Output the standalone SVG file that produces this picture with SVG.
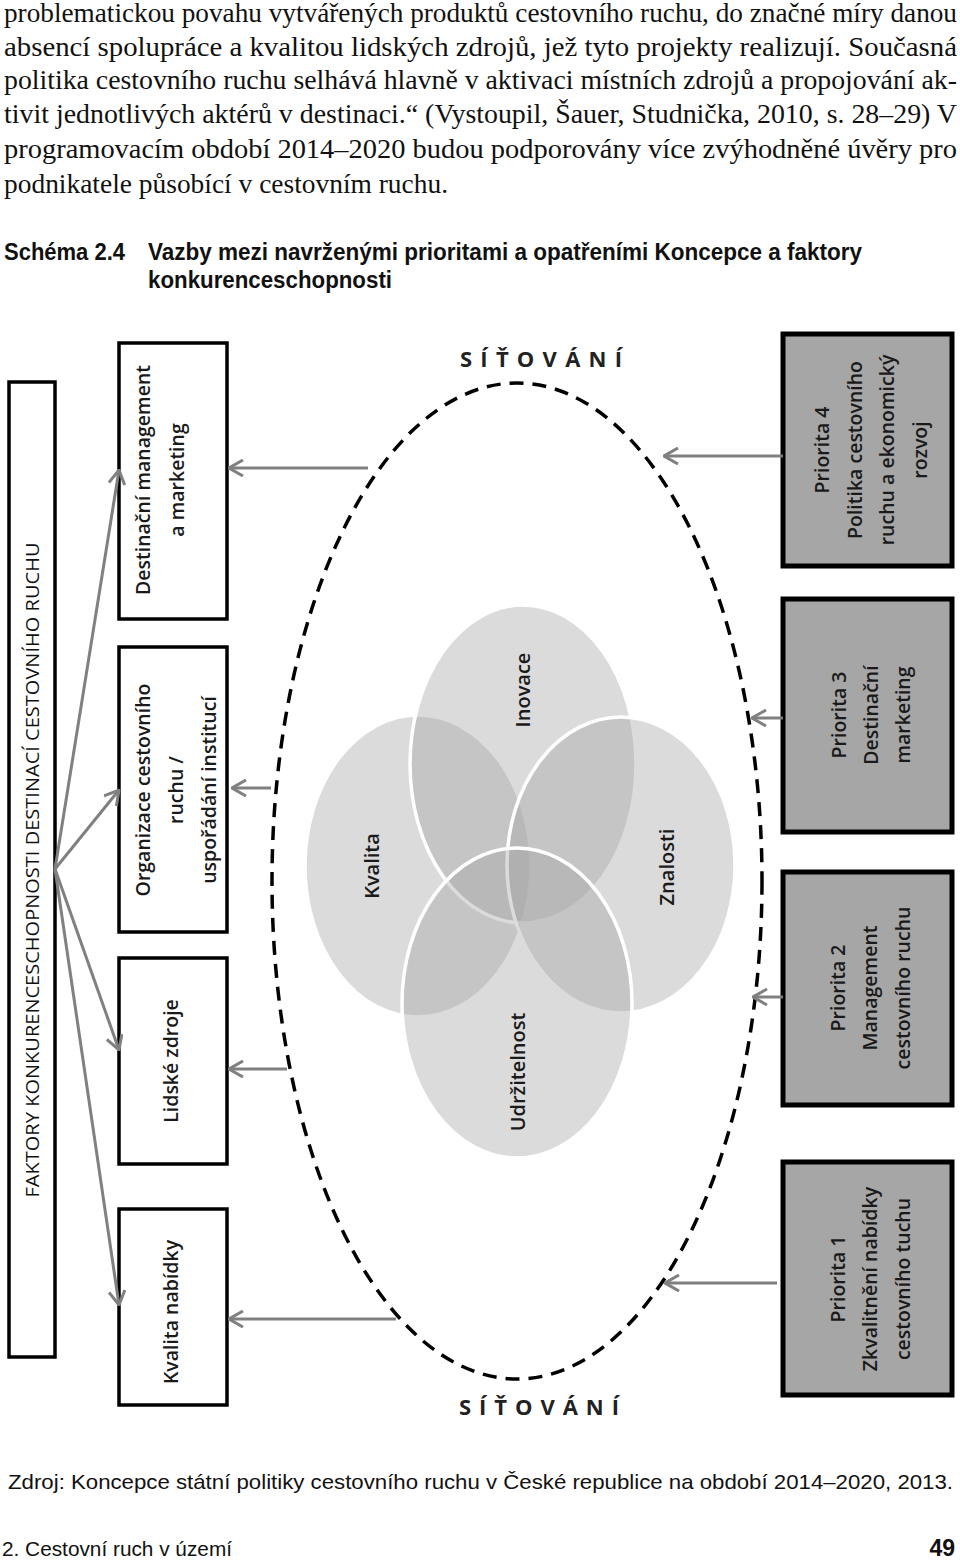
<svg xmlns="http://www.w3.org/2000/svg" width="960" height="1561" viewBox="0 0 960 1561">
<defs>
<style>
.body{font-family:"Liberation Serif","Times New Roman",serif;font-size:27px;fill:#111}
.head{font-family:"Liberation Sans",Arial,sans-serif;font-weight:bold;font-size:23px;fill:#111}
.cap{font-family:"Liberation Sans",Arial,sans-serif;font-size:21px;fill:#111}
.lbl{font-family:"Open Sans","Liberation Sans",sans-serif;font-weight:600;font-size:19.5px;fill:#1a1a1a;text-anchor:middle}
.vl{font-family:"Open Sans","Liberation Sans",sans-serif;font-weight:600;font-size:20px;fill:#1a1a1a;text-anchor:middle}
.big{font-family:"Open Sans","Liberation Sans",sans-serif;font-weight:400;font-size:18px;fill:#111;text-anchor:middle}
.net{font-family:"Open Sans","Liberation Sans",sans-serif;font-weight:700;font-size:22px;fill:#222}
.wbox{fill:#fff;stroke:#000;stroke-width:3.5}
.gbox{fill:#a6a6a6;stroke:#000;stroke-width:5}
.venn{fill:#a6a6a6;fill-opacity:0.4;stroke:#fff;stroke-width:3.5}
.conn{stroke:#808080;stroke-width:3;fill:none;marker-end:url(#arr)}
</style>
<marker id="arr" viewBox="0 0 16 18" refX="15" refY="9" markerWidth="16" markerHeight="18" markerUnits="userSpaceOnUse" orient="auto">
<path d="M1,1 L15,9 L1,17" fill="none" stroke="#808080" stroke-width="3"/>
</marker>
</defs>
<rect width="960" height="1561" fill="#fff"/>

<g id="paragraph">
<text class="body" x="4" y="22" textLength="953" lengthAdjust="spacingAndGlyphs">problematickou povahu vytvářených produktů cestovního ruchu, do značné míry danou</text>
<text class="body" x="4" y="56" textLength="953" lengthAdjust="spacingAndGlyphs">absencí spolupráce a kvalitou lidských zdrojů, jež tyto projekty realizují. Současná</text>
<text class="body" x="4" y="89" textLength="953" lengthAdjust="spacingAndGlyphs">politika cestovního ruchu selhává hlavně v aktivaci místních zdrojů a propojování ak-</text>
<text class="body" x="4" y="123" textLength="953" lengthAdjust="spacingAndGlyphs">tivit jednotlivých aktérů v destinaci.“ (Vystoupil, Šauer, Studnička, 2010, s. 28–29) V</text>
<text class="body" x="4" y="158" textLength="953" lengthAdjust="spacingAndGlyphs">programovacím období 2014–2020 budou podporovány více zvýhodněné úvěry pro</text>
<text class="body" x="4" y="193" textLength="444" lengthAdjust="spacingAndGlyphs">podnikatele působící v cestovním ruchu.</text>
</g>

<g id="heading">
<text class="head" x="4" y="260" textLength="121" lengthAdjust="spacingAndGlyphs">Schéma 2.4</text>
<text class="head" x="148" y="260" textLength="714" lengthAdjust="spacingAndGlyphs">Vazby mezi navrženými prioritami a opatřeními Koncepce a faktory</text>
<text class="head" x="148" y="288" textLength="244" lengthAdjust="spacingAndGlyphs">konkurenceschopnosti</text>
</g>

<g id="networking-ellipse">
<ellipse cx="517" cy="881" rx="245" ry="498" fill="none" stroke="#000" stroke-width="3.5" stroke-dasharray="14 9"/>
<text class="net" x="460" y="367" textLength="162" lengthAdjust="spacing">SÍŤOVÁNÍ</text>
<text class="net" x="459" y="1415" textLength="160" lengthAdjust="spacing">SÍŤOVÁNÍ</text>
</g>

<g id="venn">
<ellipse id="kvalita" class="venn" cx="418" cy="866" rx="113" ry="151"/>
<ellipse id="inovace" class="venn" cx="523" cy="764" rx="113" ry="159"/>
<ellipse id="znalosti" class="venn" cx="621" cy="865" rx="114" ry="148"/>
<ellipse id="udrzitelnost" class="venn" cx="517" cy="1003" rx="115" ry="155"/>
<text class="vl" transform="translate(523,690) rotate(-90)" dy="0.35em">Inovace</text>
<text class="vl" transform="translate(372,866) rotate(-90)" dy="0.35em">Kvalita</text>
<text class="vl" transform="translate(667,867) rotate(-90)" dy="0.35em">Znalosti</text>
<text class="vl" transform="translate(518,1072) rotate(-90)" dy="0.35em">Udržitelnost</text>
</g>

<g id="factors">
<rect class="wbox" x="9" y="382" width="46" height="975"/>
<text class="big" transform="translate(33,870) rotate(-90)" dy="0.35em" textLength="655" lengthAdjust="spacingAndGlyphs">FAKTORY KONKURENCESCHOPNOSTI DESTINACÍ CESTOVNÍHO RUCHU</text>
</g>

<g id="box-destinacni">
<rect class="wbox" x="119" y="343" width="108" height="276"/>
<text class="lbl" transform="translate(143,480) rotate(-90)" dy="0.35em">Destinační management</text>
<text class="lbl" transform="translate(177,480) rotate(-90)" dy="0.35em">a marketing</text>
</g>

<g id="box-organizace">
<rect class="wbox" x="119" y="647" width="108" height="285"/>
<text class="lbl" transform="translate(143,790) rotate(-90)" dy="0.35em">Organizace cestovního</text>
<text class="lbl" transform="translate(176,790) rotate(-90)" dy="0.35em">ruchu /</text>
<text class="lbl" transform="translate(209,790) rotate(-90)" dy="0.35em">uspořádání institucí</text>
</g>

<g id="box-lidske">
<rect class="wbox" x="119" y="958" width="108" height="206"/>
<text class="lbl" transform="translate(171,1061) rotate(-90)" dy="0.35em">Lidské zdroje</text>
</g>

<g id="box-kvalita">
<rect class="wbox" x="119" y="1209" width="108" height="196"/>
<text class="lbl" transform="translate(171,1312) rotate(-90)" dy="0.35em">Kvalita nabídky</text>
</g>

<g id="priorita4">
<rect class="gbox" x="783" y="334" width="169" height="232"/>
<text class="lbl" transform="translate(822,450) rotate(-90)" dy="0.35em">Priorita 4</text>
<text class="lbl" transform="translate(855,450) rotate(-90)" dy="0.35em">Politika cestovního</text>
<text class="lbl" transform="translate(887,450) rotate(-90)" dy="0.35em">ruchu a ekonomický</text>
<text class="lbl" transform="translate(920,450) rotate(-90)" dy="0.35em">rozvoj</text>
</g>

<g id="priorita3">
<rect class="gbox" x="783" y="599" width="169" height="233"/>
<text class="lbl" transform="translate(839,715) rotate(-90)" dy="0.35em">Priorita 3</text>
<text class="lbl" transform="translate(871,715) rotate(-90)" dy="0.35em">Destinační</text>
<text class="lbl" transform="translate(903,715) rotate(-90)" dy="0.35em">marketing</text>
</g>

<g id="priorita2">
<rect class="gbox" x="783" y="872" width="169" height="233"/>
<text class="lbl" transform="translate(838,988) rotate(-90)" dy="0.35em">Priorita 2</text>
<text class="lbl" transform="translate(870,988) rotate(-90)" dy="0.35em">Management</text>
<text class="lbl" transform="translate(903,988) rotate(-90)" dy="0.35em">cestovního ruchu</text>
</g>

<g id="priorita1">
<rect class="gbox" x="783" y="1162" width="169" height="233"/>
<text class="lbl" transform="translate(838,1279) rotate(-90)" dy="0.35em">Priorita 1</text>
<text class="lbl" transform="translate(870,1279) rotate(-90)" dy="0.35em">Zkvalitnění nabídky</text>
<text class="lbl" transform="translate(903,1279) rotate(-90)" dy="0.35em">cestovního tuchu</text>
</g>

<g id="connectors">
<line class="conn" x1="55" y1="869" x2="119" y2="470"/>
<line class="conn" x1="55" y1="869" x2="119" y2="790"/>
<line class="conn" x1="55" y1="869" x2="119" y2="1050"/>
<line class="conn" x1="55" y1="869" x2="119" y2="1305"/>
<line class="conn" x1="368" y1="468" x2="229" y2="468"/>
<line class="conn" x1="271" y1="788" x2="232" y2="788"/>
<line class="conn" x1="287" y1="1069" x2="229" y2="1069"/>
<line class="conn" x1="396" y1="1319" x2="229" y2="1319"/>
<line class="conn" x1="783" y1="456" x2="664" y2="456"/>
<line class="conn" x1="783" y1="718" x2="752" y2="718"/>
<line class="conn" x1="783" y1="997" x2="753" y2="997"/>
<line class="conn" x1="777" y1="1283" x2="665" y2="1283"/>
</g>

<g id="caption">
<text class="cap" x="8" y="1489" textLength="945" lengthAdjust="spacingAndGlyphs">Zdroj: Koncepce státní politiky cestovního ruchu v České republice na období 2014–2020, 2013.</text>
</g>

<g id="footer">
<text class="cap" x="2" y="1556" font-size="21" textLength="230" lengthAdjust="spacingAndGlyphs">2. Cestovní ruch v území</text>
<text class="head" x="955" y="1556" font-size="24" text-anchor="end">49</text>
</g>
</svg>
